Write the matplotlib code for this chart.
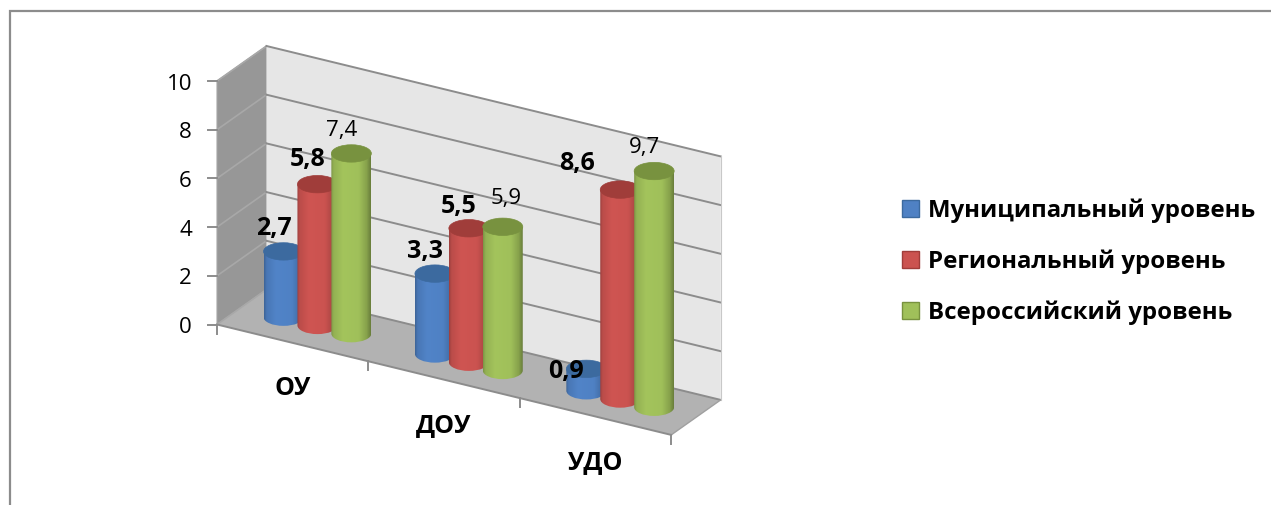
import numpy as np
import matplotlib
matplotlib.use("Agg")
import matplotlib.pyplot as plt
from matplotlib.patches import Polygon, Patch, Ellipse, PathPatch
from matplotlib.path import Path
from matplotlib.colors import to_rgb

plt.rcParams['font.family'] = ['Open Sans', 'Noto Sans', 'DejaVu Sans']

categories = ['ОУ', 'ДОУ', 'УДО']
series_names = ['Муниципальный уровень', 'Региональный уровень', 'Всероссийский уровень']
municipal = [2.7, 3.3, 0.9]
regional = [5.8, 5.5, 8.6]
national = [7.4, 5.9, 9.7]
y_ticks = [0, 2, 4, 6, 8, 10]

series_values = [municipal, regional, national]
colors = ['#4F81C4', '#CB5350', '#A0C05A']
top_colors = ['#3C6A9F', '#A03D3A', '#78923F']
label_bold = [True, True, False]
# pixel offsets of each value label from the top of its cylinder
label_offsets = [[(-10, -23), (-10, -22), (-20, 3)],
                 [(-10, -25), (-10, -22), (-43, -26)],
                 [(-10, -23), (3, -28), (-10, -24)]]

W, H = 1271, 505
fig = plt.figure(figsize=(W / 100, H / 100), dpi=100)
ax = fig.add_axes([0, 0, 1, 1])
ax.set_axis_off()

O = np.array([217.0, 324.5])
U = np.array([151.4, 36.8])
V = np.array([49.5, -35.0])
SCALE = 24.35
SPACING = 0.224
HW, HE = 20.0, 8.7


def proj(c, d, val=0.0):
    p = O + c * U + d * V
    return (p[0], p[1] - val * SCALE)


WALL_EDGE = '#8C8C8C'
ymax = max(y_ticks)
n = len(categories)

ax.add_patch(Polygon([proj(0, 0), proj(0, 1), proj(0, 1, ymax), proj(0, 0, ymax)],
                     fc='#979797', ec='#A6A6A6', lw=0.8, zorder=1))
ax.add_patch(Polygon([proj(0, 1), proj(n, 1), proj(n, 1, ymax), proj(0, 1, ymax)],
                     fc='#E6E6E6', ec='none', zorder=1))
ax.add_patch(Polygon([proj(0, 0), proj(n, 0), proj(n, 1), proj(0, 1)],
                     fc='#B2B2B2', ec='none', zorder=1))

for t in y_ticks:
    p0, p1, p2 = proj(0, 0, t), proj(0, 1, t), proj(n, 1, t)
    ax.plot([p0[0], p1[0]], [p0[1], p1[1]], color='#A8A8A8', lw=1.2, zorder=2)
    ax.plot([p1[0], p2[0]], [p1[1], p2[1]], color=WALL_EDGE, lw=1.4, zorder=2)
    ax.plot([p0[0] - 9, p0[0]], [p0[1], p0[1]], color=WALL_EDGE, lw=1.4, zorder=2)
    ax.text(p0[0] - 25, p0[1] + 3, str(t), ha='right', va='center', fontsize=16, color='black')

e0, e1 = proj(0, 0), proj(n, 0)
ax.plot([e0[0], e1[0]], [e0[1], e1[1]], color=WALL_EDGE, lw=1.4, zorder=2)
b0, b1 = proj(n, 0), proj(n, 1)
ax.plot([b0[0], b1[0]], [b0[1], b1[1]], color='#A0A0A0', lw=1.0, zorder=2)
b2 = proj(n, 1, ymax)
ax.plot([b1[0], b2[0]], [b1[1], b2[1]], color='#C8C8C8', lw=0.8, zorder=2)
for c in range(n + 1):
    p = proj(c, 0)
    ax.plot([p[0], p[0]], [p[1], p[1] + 9], color=WALL_EDGE, lw=1.4, zorder=2)
for c, name in enumerate(categories):
    p = proj(c + 0.5, 0)
    ax.text(p[0], p[1] + 46, name, ha='center', va='center', fontsize=18,
            fontweight='bold', color='black', zorder=30)

stops = [0.0, 0.06, 0.30, 0.70, 0.90, 1.0]
shade = [0.78, 0.92, 1.02, 1.0, 0.84, 0.66]
tt = np.linspace(0, 1, 64)
prof = np.interp(tt, stops, shade)


def cylinder(cx, y_base, y_top, col, top_col, z):
    rgb = np.array(to_rgb(col))
    grad = np.clip(prof[:, None] * rgb[None, :], 0, 1)[None, :, :]
    k = 0.5523
    verts = [(cx - HW, y_top), (cx - HW, y_base),
             (cx - HW, y_base + k * HE), (cx - k * HW, y_base + HE), (cx, y_base + HE),
             (cx + k * HW, y_base + HE), (cx + HW, y_base + k * HE), (cx + HW, y_base),
             (cx + HW, y_top), (cx - HW, y_top)]
    codes = [Path.MOVETO, Path.LINETO, Path.CURVE4, Path.CURVE4, Path.CURVE4,
             Path.CURVE4, Path.CURVE4, Path.CURVE4, Path.LINETO, Path.CLOSEPOLY]
    clip = PathPatch(Path(verts, codes), fc='none', ec='none', transform=ax.transData, zorder=z)
    ax.add_patch(clip)
    im = ax.imshow(grad, extent=(cx - HW, cx + HW, y_base + HE + 1, y_top - 1), aspect='auto',
                   interpolation='bilinear', zorder=z)
    im.set_clip_path(clip)
    ax.add_patch(Ellipse((cx, y_top), 2 * HW, 2 * HE, fc=top_col, ec=top_col, lw=0.5, zorder=z + 0.1))


z = 5
for c in range(n):
    for s, vals in enumerate(series_values):
        base = proj(c + 0.5 + (s - 1) * SPACING, 0.5)
        top = proj(c + 0.5 + (s - 1) * SPACING, 0.5, vals[c])
        cylinder(base[0], base[1], top[1], colors[s], top_colors[s], z)
        z += 1
        dx, dy = label_offsets[s][c]
        bold = label_bold[s]
        ax.text(top[0] + dx, top[1] + dy, f'{vals[c]:.1f}'.replace('.', ','), ha='center', va='center',
                fontsize=18 if bold else 16, fontweight='bold' if bold else 'normal',
                color='black', zorder=40)

# chart frame: only top and left edges are visible in the crop
ax.plot([9.5, 9.5, W], [H, 11, 11], color='#8C8C8C', lw=1.6, zorder=0.5, solid_joinstyle='miter')

handles = [Patch(facecolor=col, edgecolor=tc, lw=1.0) for col, tc in zip(colors, top_colors)]
ax.legend(handles, series_names, loc='center left', bbox_to_anchor=(902, 262),
          bbox_transform=ax.transData, frameon=False,
          prop={'size': 17.3, 'weight': 'bold'}, handlelength=0.71, handleheight=0.71, handletextpad=0.36,
          labelspacing=1.1, borderpad=0, borderaxespad=0)

ax.set_xlim(0, W)
ax.set_ylim(H, 0)
fig.savefig('out.png', dpi=100, facecolor='white')
